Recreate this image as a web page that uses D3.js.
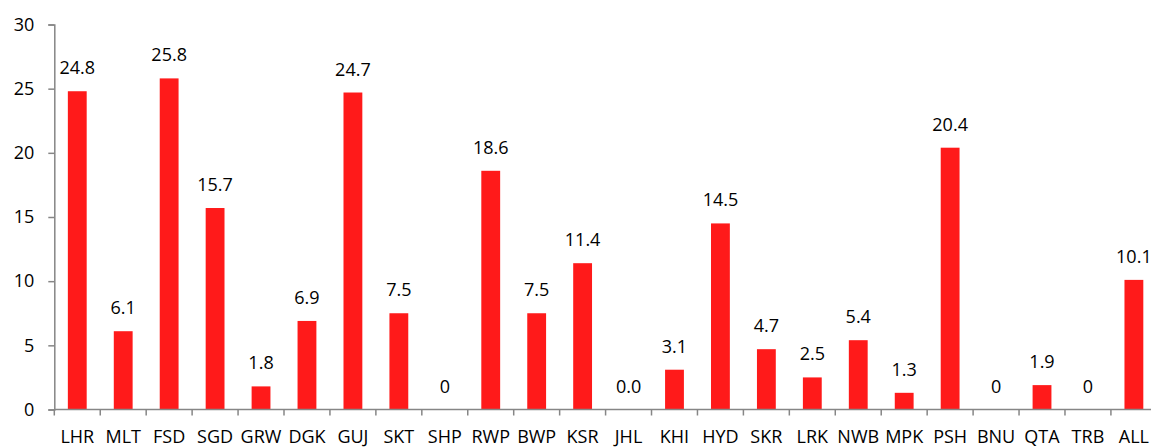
<!DOCTYPE html>
<html>
<head>
<meta charset="utf-8">
<script src="https://cdn.jsdelivr.net/npm/d3@7"></script>
<style>
  body { margin: 0; background: #fff; }
  text { font-family: "Open Sans", sans-serif; fill: #000; }
</style>
</head>
<body>
<div id="app"></div>
<script>
// data
let categories = ["LHR","MLT","FSD","SGD","GRW","DGK","GUJ","SKT","SHP","RWP","BWP","KSR",
                  "JHL","KHI","HYD","SKR","LRK","NWB","MPK","PSH","BNU","QTA","TRB","ALL"]
let values = [24.8, 6.1, 25.8, 15.7, 1.8, 6.9, 24.7, 7.5, 0, 18.6, 7.5, 11.4,
              0.0, 3.1, 14.5, 4.7, 2.5, 5.4, 1.3, 20.4, 0, 1.9, 0, 10.1]
let valueLabels = ["24.8","6.1","25.8","15.7","1.8","6.9","24.7","7.5","0","18.6","7.5","11.4",
                   "0.0","3.1","14.5","4.7","2.5","5.4","1.3","20.4","0","1.9","0","10.1"]
let yTicks = [0, 5, 10, 15, 20, 25, 30]

let width = 1151
let height = 447
let margin = {top: 24.5, left: 54.3, bottom: 37.5}
let band = 45.94
let fontSize = 18

let svg = d3.select("#app").append("svg")
    .attr("width", width)
    .attr("height", height)

let x = d3.scaleBand()
    .domain(categories)
    .range([margin.left, margin.left + band * categories.length])
    .paddingInner(0.59)
    .paddingOuter(0.295)

let y = d3.scaleLinear()
    .domain([0, 30])
    .range([height - margin.bottom, margin.top])

//bars
svg.append("g")
    .selectAll("rect")
    .data(values)
    .enter().append("rect")
    .attr("x", (d, i) => x(categories[i]))
    .attr("y", d => y(d))
    .attr("width", x.bandwidth())
    .attr("height", d => y(0) - y(d))
    .attr("fill", "#ff1a1a")

//value labels
svg.append("g")
    .selectAll("text")
    .data(values)
    .enter().append("text")
    .attr("x", (d, i) => x(categories[i]) + x.bandwidth() / 2)
    .attr("y", d => y(d) - 17)
    .attr("text-anchor", "middle")
    .attr("font-size", fontSize)
    .text((d, i) => valueLabels[i])

// y axis
let yAxis = svg.append("g")
    .attr("transform", `translate(${margin.left},0)`)
    .call(d3.axisLeft(y).tickValues(yTicks).tickSize(6).tickPadding(14))
yAxis.selectAll("text").attr("font-size", fontSize).style("font-family", "'Open Sans', sans-serif")
yAxis.select(".domain").attr("stroke", "#868686").attr("stroke-width", 1.5)
yAxis.selectAll(".tick line").attr("stroke", "#868686").attr("stroke-width", 1.5)

// x axis
let tickPos = d3.range(categories.length + 1).map(i => margin.left + band * i)
let xg = svg.append("g")
xg.append("line")
    .attr("x1", margin.left).attr("x2", width)
    .attr("y1", y(0)).attr("y2", y(0))
    .attr("stroke", "#868686").attr("stroke-width", 1.5)
xg.selectAll("line.tk")
    .data(tickPos)
    .enter().append("line")
    .attr("class", "tk")
    .attr("x1", d => d).attr("x2", d => d)
    .attr("y1", y(0)).attr("y2", y(0) + 6)
    .attr("stroke", "#868686").attr("stroke-width", 1.5)
xg.selectAll("text")
    .data(categories)
    .enter().append("text")
    .attr("x", d => x(d) + x.bandwidth() / 2)
    .attr("y", 443)
    .attr("text-anchor", "middle")
    .attr("font-size", fontSize)
    .text(d => d)
</script>
</body>
</html>
